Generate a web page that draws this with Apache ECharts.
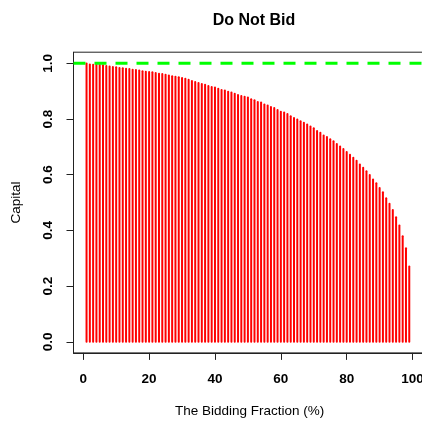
<!DOCTYPE html>
<html>
<head>
<meta charset="utf-8">
<script src="https://cdn.jsdelivr.net/npm/echarts@6/dist/echarts.min.js"></script>
<style>
  html, body { margin: 0; padding: 0; background: #ffffff; }
  #chart { width: 422px; height: 421px; }
</style>
</head>
<body>
<div id="chart"></div>
<script>
const titleText = "Do Not Bid";
const xAxisTitle = "The Bidding Fraction (%)";
const yAxisTitle = "Capital";

const fractions = [
  1, 2, 3, 4, 5, 6, 7, 8, 9, 10,
  11, 12, 13, 14, 15, 16, 17, 18, 19, 20,
  21, 22, 23, 24, 25, 26, 27, 28, 29, 30,
  31, 32, 33, 34, 35, 36, 37, 38, 39, 40,
  41, 42, 43, 44, 45, 46, 47, 48, 49, 50,
  51, 52, 53, 54, 55, 56, 57, 58, 59, 60,
  61, 62, 63, 64, 65, 66, 67, 68, 69, 70,
  71, 72, 73, 74, 75, 76, 77, 78, 79, 80,
  81, 82, 83, 84, 85, 86, 87, 88, 89, 90,
  91, 92, 93, 94, 95, 96, 97, 98, 99, 100
];

const capital = [
  0.999, 0.996, 0.995, 0.995, 0.994, 0.993, 0.990, 0.989, 0.987, 0.986,
  0.983, 0.982, 0.981, 0.980, 0.977, 0.976, 0.974, 0.972, 0.970, 0.969,
  0.968, 0.965, 0.963, 0.962, 0.959, 0.956, 0.954, 0.952, 0.950, 0.947,
  0.945, 0.941, 0.937, 0.933, 0.929, 0.926, 0.923, 0.919, 0.915, 0.913,
  0.909, 0.904, 0.902, 0.898, 0.895, 0.891, 0.886, 0.883, 0.880, 0.877,
  0.871, 0.867, 0.861, 0.859, 0.852, 0.849, 0.843, 0.840, 0.832, 0.826,
  0.823, 0.818, 0.810, 0.804, 0.798, 0.792, 0.787, 0.780, 0.773, 0.767,
  0.757, 0.751, 0.741, 0.735, 0.727, 0.720, 0.710, 0.701, 0.692, 0.682,
  0.672, 0.661, 0.650, 0.637, 0.625, 0.612, 0.599, 0.583, 0.569, 0.552,
  0.537, 0.515, 0.496, 0.473, 0.447, 0.418, 0.379, 0.336, 0.270, 0.000
];

const referenceLevel = 1.0;
const xTicks = [0, 20, 40, 60, 80, 100];
const yTicks = [0, 0.2, 0.4, 0.6, 0.8, 1.0];

const xMin = -2.96, xMax = 103.96;
const yMin = -0.04, yMax = 1.04;

const barData = fractions.map((f, i) => [f, capital[i]]);

const chart = echarts.init(document.getElementById('chart'), null, { renderer: 'canvas' });
const FONT = '"Liberation Sans", Arial, Helvetica, sans-serif';

chart.setOption({
  backgroundColor: '#ffffff',
  animation: false,
  title: {
    text: titleText,
    left: 249,
    top: 8,
    textAlign: 'center',
    textStyle: { fontFamily: FONT, fontSize: 16, fontWeight: 'bold', color: '#000' }
  },
  grid: {
    left: 73.5,
    top: 52.2,
    width: 352.1,
    height: 300.7,
    show: true,
    borderColor: '#222',
    borderWidth: 1,
    backgroundColor: 'transparent',
    containLabel: false,
    outerBoundsMode: 'none'
  },
  xAxis: {
    type: 'value',
    min: xMin,
    max: xMax,
    name: xAxisTitle,
    nameLocation: 'middle',
    nameGap: 51,
    nameTextStyle: { fontFamily: FONT, fontSize: 13.5, color: '#000' },
    axisLine: { show: true, onZero: false, lineStyle: { color: '#222', width: 1 } },
    axisTick: { show: true, customValues: xTicks, length: 7, inside: false, lineStyle: { color: '#222' } },
    axisLabel: {
      customValues: xTicks,
      margin: 19,
      fontFamily: FONT, fontSize: 13.5, fontWeight: 'bold', color: '#000',
      formatter: v => String(v)
    },
    splitLine: { show: false }
  },
  yAxis: {
    type: 'value',
    min: yMin,
    max: yMax,
    name: yAxisTitle,
    nameLocation: 'middle',
    nameRotate: 90,
    nameGap: 50,
    nameTextStyle: { fontFamily: FONT, fontSize: 13.5, color: '#000' },
    axisLine: { show: true, onZero: false, lineStyle: { color: '#222', width: 1 } },
    axisTick: { show: true, customValues: yTicks, length: 7, inside: false, lineStyle: { color: '#222' } },
    axisLabel: {
      customValues: yTicks,
      rotate: 90,
      margin: 18,
      fontFamily: FONT, fontSize: 13.5, fontWeight: 'bold', color: '#000',
      formatter: v => Number(v).toFixed(1)
    },
    splitLine: { show: false }
  },
  series: [
    {
      type: 'custom',
      name: 'Capital',
      data: barData,
      encode: { x: 0, y: 1 },
      clip: true,
      renderItem: function (params, api) {
        const x = api.value(0);
        const y = api.value(1);
        const p0 = api.coord([x, 0]);
        const p1 = api.coord([x, y]);
        return {
          type: 'line',
          shape: { x1: p0[0], y1: p0[1], x2: p1[0], y2: p1[1] },
          style: { stroke: '#ff0000', lineWidth: 2, lineCap: 'round' }
        };
      }
    },
    {
      type: 'line',
      name: 'Reference',
      data: [[xMin, referenceLevel], [xMax, referenceLevel]],
      symbol: 'none',
      silent: true,
      z: 5,
      lineStyle: { color: '#00ff00', width: 3, type: [12, 9] }
    }
  ]
});
</script>
</body>
</html>
